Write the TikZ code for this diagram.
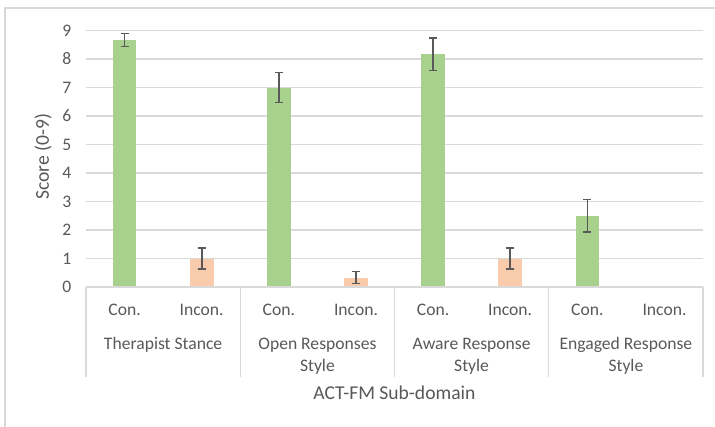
\documentclass[tikz,border=0pt]{standalone}
\usepackage{fontspec}
\setmainfont{Carlito}
\definecolor{txt}{HTML}{595959}
\definecolor{gridc}{HTML}{D9D9D9}
\definecolor{conc}{HTML}{A9D18E}
\definecolor{inconc}{HTML}{F8CBAD}
\definecolor{errc}{HTML}{595959}
\begin{document}
\begin{tikzpicture}[x=1pt,y=-1pt,
  lbl/.style={text=txt,font=\fontsize{17.6}{21}\selectfont,inner sep=0pt},
  ttl/.style={text=txt,font=\fontsize{19.6}{23}\selectfont,inner sep=0pt},
  gridline/.style={draw=gridc,line width=1.3pt},
  errbar/.style={draw=errc,line width=1.6pt},
  conbar/.style={fill=conc},
  inconbar/.style={fill=inconc}]
\useasboundingbox (0,0) rectangle (715,426);
\fill[white] (0,0) rectangle (715,426);
% outer chart frame
\draw[gridline] (5,430) -- (5,8) -- (720,8);
% gridlines
\foreach \v in {1,...,9}
  \draw[gridline] (86,{287-28.5*\v}) -- (703,{287-28.5*\v});
% tick labels
\foreach \v in {0,...,9}
  \node[lbl,anchor=east] (tick\v) at (71.5,{287-28.5*\v}) {\v};
% bars: x centre / value / error / style
\foreach \x/\val/\e/\s in {124.6/8.67/0.23/conbar, 201.7/1.0/0.37/inconbar,
                            278.8/7.0/0.52/conbar, 356.0/0.33/0.21/inconbar,
                            433.1/8.17/0.57/conbar, 510.2/1.0/0.37/inconbar,
                            587.4/2.5/0.57/conbar} {
  \fill[\s] ({\x-11.8},287) rectangle ({\x+11.8},{287-28.5*\val});
  \draw[errbar] (\x,{287-28.5*(\val+\e)}) -- (\x,{287-28.5*(\val-\e)});
  \draw[errbar] ({\x-4},{287-28.5*(\val+\e)}) -- ({\x+4},{287-28.5*(\val+\e)});
  \draw[errbar] ({\x-4},{287-28.5*(\val-\e)}) -- ({\x+4},{287-28.5*(\val-\e)});
}
% category axis
\draw[gridline] (86,287) -- (703,287);
\foreach \x in {86,240.25,394.5,548.75,703}
  \draw[gridline] (\x,287) -- (\x,377);
% sub-category labels
\foreach \x/\t [count=\i] in {124.6/Con., 201.7/Incon., 278.8/Con., 356.0/Incon.,
                              433.1/Con., 510.2/Incon., 587.4/Con., 664.5/Incon.}
  \node[lbl,anchor=base] (sub\i) at (\x,315.7) {\t};
% group labels
\node[lbl,anchor=base] (g1) at (163.1,349) {Therapist Stance};
\node[lbl,anchor=base] (g2a) at (317.4,349) {Open Responses};
\node[lbl,anchor=base] (g2b) at (317.4,371) {Style};
\node[lbl,anchor=base] (g3a) at (471.6,349) {Aware Response};
\node[lbl,anchor=base] (g3b) at (471.6,371) {Style};
\node[lbl,anchor=base] (g4a) at (625.9,349) {Engaged Response};
\node[lbl,anchor=base] (g4b) at (625.9,371) {Style};
% axis titles
\node[ttl,anchor=base] (xtitle) at (394.5,399.3) {ACT-FM Sub-domain};
\node[ttl,rotate=90] (ytitle) at (43,157) {Score (0-9)};
\end{tikzpicture}
\end{document}
